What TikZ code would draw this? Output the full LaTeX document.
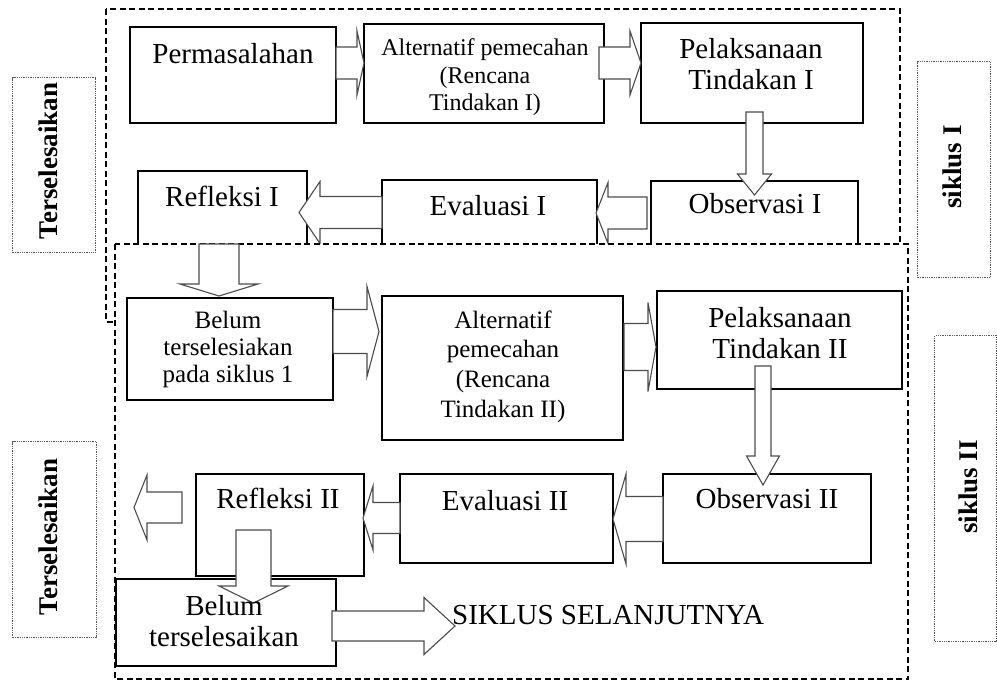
\documentclass[tikz,border=0pt]{standalone}
\usepackage{fontspec}
\setmainfont{Liberation Serif}
\usetikzlibrary{calc}
\newcommand\blkR[5]{\draw[barrow] let \p1=(#1),\p2=(#2) in (\x1,\y2+#3pt) -- (\x2-#5pt,\y2+#3pt) -- (\x2-#5pt,\y2+#4pt) -- (\x2,\y2) -- (\x2-#5pt,\y2-#4pt) -- (\x2-#5pt,\y2-#3pt) -- (\x1,\y2-#3pt) -- cycle;}
\newcommand\blkL[5]{\draw[barrow] let \p1=(#1),\p2=(#2) in (\x1,\y2+#3pt) -- (\x2+#5pt,\y2+#3pt) -- (\x2+#5pt,\y2+#4pt) -- (\x2,\y2) -- (\x2+#5pt,\y2-#4pt) -- (\x2+#5pt,\y2-#3pt) -- (\x1,\y2-#3pt) -- cycle;}
\newcommand\blkD[5]{\draw[barrow] let \p1=(#1),\p2=(#2) in (\x2-#3pt,\y1) -- (\x2-#3pt,\y2+#5pt) -- (\x2-#4pt,\y2+#5pt) -- (\x2,\y2) -- (\x2+#4pt,\y2+#5pt) -- (\x2+#3pt,\y2+#5pt) -- (\x2+#3pt,\y1) -- cycle;}
\tikzset{
  box/.style={draw, line width=1.2pt, anchor=north west, inner sep=0pt, outer sep=0pt, fill=white},
  side/.style={draw=black!65, densely dotted, line width=1.3pt, anchor=north west, inner sep=0pt},
  frame/.style={draw, dash pattern=on 6pt off 3.5pt, line width=1.2pt},
  barrow/.style={draw=black!70, fill=white, line width=1.1pt, line join=miter},
  big/.style={font=\fontsize{29}{31}\selectfont, anchor=base, inner sep=0pt},
  mid/.style={font=\fontsize{25}{27}\selectfont, anchor=base, inner sep=0pt},
  small/.style={font=\fontsize{24}{27}\selectfont, anchor=base, inner sep=0pt},
  vert/.style={font=\fontsize{27}{30}\selectfont\bfseries, rotate=90, inner sep=0pt},
}
\begin{document}
\begin{tikzpicture}[x=1pt,y=-1pt]
\useasboundingbox (0,0) rectangle (997,681);
% side labels
\node[side, minimum width=83pt, minimum height=175pt] (t1box) at (12,77) {};
\node[vert] (t1) at (48,161) {Terselesaikan};
\node[side, minimum width=73pt, minimum height=216pt] (s1box) at (917,61) {};
\node[vert] (s1) at (952,167) {siklus I};
\node[side, minimum width=84pt, minimum height=196pt] (t2box) at (12,441) {};
\node[vert] (t2) at (48,537) {Terselesaikan};
\node[side, minimum width=62pt, minimum height=306pt] (s2box) at (934,335) {};
\node[vert] (s2) at (968,487) {siklus II};
% cycle I frame
\draw[frame] (106,9) rectangle (900,322);
% cycle I boxes
\node[box, minimum width=206pt, minimum height=96pt] (perm) at (130,27) {};
\node[box, minimum width=240pt, minimum height=99pt] (alt1) at (364,24) {};
\node[box, minimum width=222pt, minimum height=100pt] (pel1) at (641,23) {};
\node[box, minimum width=207pt, minimum height=90pt] (obs1) at (651,181) {};
\node[box, minimum width=215pt, minimum height=90pt] (eva1) at (382,180) {};
\node[box, minimum width=169pt, minimum height=99pt] (ref1) at (138,171) {};
% cycle I arrows
\coordinate (a1s) at (336,63); \coordinate (a1t) at (364,63);
\blkR{a1s}{a1t}{16}{32}{7}
\coordinate (a2s) at (599,63); \coordinate (a2t) at (641,63);
\blkR{a2s}{a2t}{16}{32}{11}
\coordinate (a3s) at (754.5,112); \coordinate (a3t) at (754.5,195);
\blkD{a3s}{a3t}{8.5}{17}{21}
\coordinate (a4s) at (647,213); \coordinate (a4t) at (596,213);
\blkL{a4s}{a4t}{16}{30.5}{12}
\coordinate (a5s) at (382,212.5); \coordinate (a5t) at (299,212.5);
\blkL{a5s}{a5t}{16}{31}{21}
% cycle I texts
\node[big] (tperm) at (233,63) {Permasalahan};
\node[small] (talt1a) at (485,55) {Alternatif pemecahan};
\node[small] (talt1b) at (485,83) {(Rencana};
\node[small] (talt1c) at (485,110) {Tindakan I)};
\node[big] (tpel1a) at (751,58) {Pelaksanaan};
\node[big] (tpel1b) at (751,89) {Tindakan I};
\node[big] (tref1) at (222,206) {Refleksi I};
\node[big] (teva1) at (488,215) {Evaluasi I};
\node[big] (tobs1) at (755,213) {Observasi I};
% cycle II frame
\draw[frame, fill=white] (115,244) rectangle (908,679);
% cycle II boxes
\node[box, minimum width=206pt, minimum height=102pt] (bel1) at (127,298) {};
\node[box, minimum width=241pt, minimum height=144pt] (alt2) at (382,296) {};
\node[box, minimum width=245pt, minimum height=98pt] (pel2) at (657,291) {};
\node[box, minimum width=208pt, minimum height=89pt] (obs2) at (663,474) {};
\node[box, minimum width=213pt, minimum height=89pt] (eva2) at (400,474) {};
\node[box, minimum width=168pt, minimum height=102pt] (ref2) at (196,474) {};
\node[box, minimum width=220pt, minimum height=87pt] (bel2) at (116,579) {};
% cycle II arrows
\coordinate (a6s) at (219,244); \coordinate (a6t) at (219,296);
\blkD{a6s}{a6t}{20}{39}{12}
\coordinate (a7s) at (333,331.5); \coordinate (a7t) at (379,331.5);
\blkR{a7s}{a7t}{22}{45}{12}
\coordinate (a8s) at (624,347); \coordinate (a8t) at (656,347);
\blkR{a8s}{a8t}{23.5}{44.5}{8}
\coordinate (a9s) at (763,366); \coordinate (a9t) at (763,485);
\blkD{a9s}{a9t}{8}{16.5}{29}
\coordinate (a10s) at (663,519); \coordinate (a10t) at (613,519);
\blkL{a10s}{a10t}{22.5}{45}{13}
\coordinate (a11s) at (400,518); \coordinate (a11t) at (363,518);
\blkL{a11s}{a11t}{15.5}{32}{10}
\coordinate (a12s) at (182,507.5); \coordinate (a12t) at (134,507.5);
\blkL{a12s}{a12t}{15.5}{32.5}{13}
\coordinate (a13s) at (253.5,530); \coordinate (a13t) at (253.5,603);
\blkD{a13s}{a13t}{17.5}{34.5}{17}
\coordinate (a14s) at (332,626); \coordinate (a14t) at (455,626);
\blkR{a14s}{a14t}{15}{28.5}{31}
% cycle II texts
\node[mid] (tbel1a) at (228,328) {Belum};
\node[mid] (tbel1b) at (228,355) {terselesiakan};
\node[mid] (tbel1c) at (228,382) {pada siklus 1};
\node[mid] (talt2a) at (503,328) {Alternatif};
\node[mid] (talt2b) at (503,357) {pemecahan};
\node[mid] (talt2c) at (503,387) {(Rencana};
\node[mid] (talt2d) at (503,417) {Tindakan II)};
\node[big] (tpel2a) at (780,327) {Pelaksanaan};
\node[big] (tpel2b) at (780,358) {Tindakan II};
\node[big] (tobs2) at (767,508) {Observasi II};
\node[big] (teva2) at (505,510) {Evaluasi II};
\node[big] (tref2) at (278,508) {Refleksi II};
\node[big] (tbel2a) at (224,615) {Belum};
\node[big] (tbel2b) at (224,646) {terselesaikan};
\node[big, anchor=base west] (tnext) at (452,624) {SIKLUS SELANJUTNYA};
\end{tikzpicture}
\end{document}
